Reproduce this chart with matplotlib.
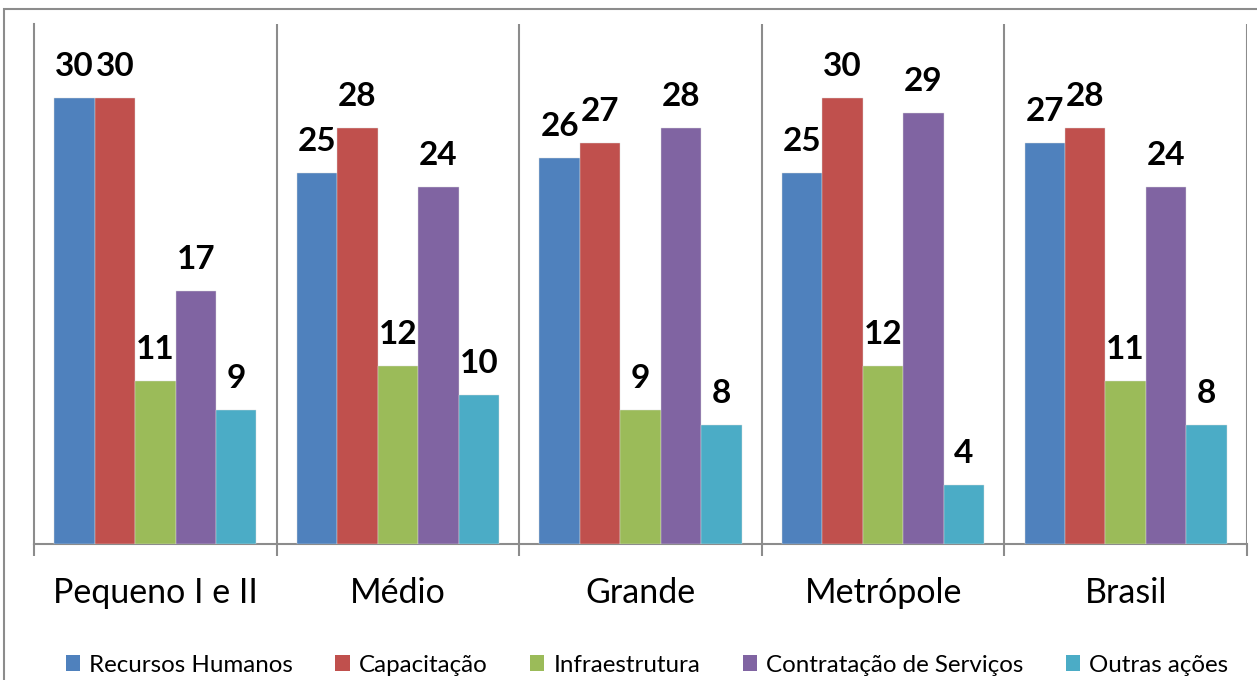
import matplotlib
matplotlib.use("Agg")
import matplotlib.pyplot as plt
from matplotlib.patches import Rectangle, Patch
import numpy as np

categories = ["Pequeno I e II", "Médio", "Grande", "Metrópole", "Brasil"]
series_names = ["Recursos Humanos", "Capacitação", "Infraestrutura",
                "Contratação de Serviços", "Outras ações"]
recursos_humanos = [30, 25, 26, 25, 27]
capacitacao = [30, 28, 27, 30, 28]
infraestrutura = [11, 12, 9, 12, 11]
contratacao = [17, 24, 28, 29, 24]
outras = [9, 10, 8, 4, 8]
series_values = [recursos_humanos, capacitacao, infraestrutura, contratacao, outras]
colors = ["#4F81BD", "#C0504D", "#9BBB59", "#8064A2", "#4BACC6"]

W, H = 1257, 680
fig = plt.figure(figsize=(W / 100, H / 100), dpi=100)
plt.rcParams['font.family'] = ['Lato', 'DejaVu Sans']

ax = fig.add_axes([34 / W, 136 / H, 1213 / W, 520 / H])
x = np.arange(len(categories))
bw = 1 / 6
px2pt = 72 / 100
for j, (vals, c) in enumerate(zip(series_values, colors)):
    xs = x + (j - 2) * bw
    ax.bar(xs, vals, width=bw, color=c, edgecolor="#dddddd", linewidth=0.3, zorder=3)
    for xi, v in zip(xs, vals):
        ax.annotate(str(v), xy=(xi, v), xytext=(0, 22 * px2pt), textcoords="offset points",
                    ha="center", va="baseline", fontsize=24, fontweight="bold",
                    color="black")

ax.set_xlim(-0.5, 4.5)
ax.set_ylim(0, 35)
gray = "#8C8C8C"
for s in ["top", "right"]:
    ax.spines[s].set_visible(False)
for s in ["left", "bottom"]:
    ax.spines[s].set_color(gray)
    ax.spines[s].set_linewidth(1.5)
ax.set_yticks([])
ax.set_xticks(x)
ax.set_xticklabels([])
ax.tick_params(axis="x", which="major", length=0)
ax.set_xticks(np.arange(-0.5, 5.0, 1.0), minor=True)
ax.tick_params(axis="x", which="minor", length=12 * px2pt, width=1.5, color=gray, direction="out")
for b in np.arange(0.5, 5.0, 1.0):
    ax.axvline(b, color=gray, linewidth=1.5, zorder=1)

for xi, cat in zip(x, categories):
    ax.annotate(cat, xy=(xi, 0), xycoords=("data", "axes fraction"),
                xytext=(0, -59 * px2pt), textcoords="offset points",
                ha="center", va="baseline", fontsize=24.5, color="black")

handles = [Patch(facecolor=c, edgecolor="none") for c in colors]
fig.legend(handles, series_names, ncol=5, loc="center", bbox_to_anchor=(647 / W, 1 - 665 / H),
           frameon=False, fontsize=17.4, handlelength=0.6, handleheight=0.6,
           handletextpad=0.37, columnspacing=1.75, borderaxespad=0)

fig.patches.append(Rectangle((4 / W, -0.1), 1.2, 1 - 9 / H + 0.1, transform=fig.transFigure,
                             fill=False, edgecolor=gray, linewidth=1.5))

fig.savefig("out.png", dpi=100)
